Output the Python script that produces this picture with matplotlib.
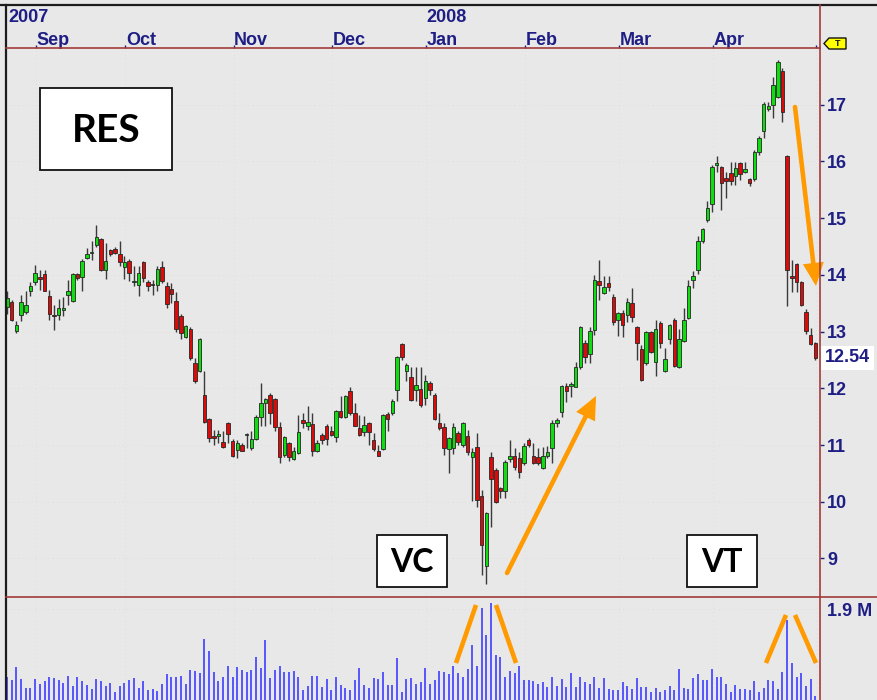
import numpy as np
import matplotlib
matplotlib.use("Agg")
import matplotlib.pyplot as plt
import matplotlib.transforms as mtransforms
from matplotlib.patches import Rectangle, Polygon, FancyArrowPatch
from matplotlib.lines import Line2D

# ---------------------------------------------------------------- data
ticker = "RES"
months = ["Sep", "Oct", "Nov", "Dec", "Jan", "Feb", "Mar", "Apr"]
month_start = [6, 25, 48, 69, 89, 110, 130, 150]      # bar index of first session
years = ["2007", "2008"]
year_start = [0, 89]
price_ticks = [9, 10, 11, 12, 13, 14, 15, 16, 17]
last_price = 12.54
volume_tick = 1.9            # millions
volume_tick_label = "1.9 M"

open_ = [
    13.44, 13.53, 13.01, 13.30, 13.34, 13.72, 13.88, 13.97, 14.02, 13.62,
    13.30, 13.30, 13.38, 13.65, 13.54, 14.01, 13.97, 14.30, 14.38, 14.53,
    14.63, 14.09, 14.43, 14.46, 14.37, 14.14, 14.25, 13.87, 13.82, 14.22,
    13.88, 13.84, 13.83, 14.13, 13.80, 13.75, 13.54, 13.27, 12.91, 13.05,
    12.44, 12.30, 11.89, 11.46, 11.15, 11.15, 11.06, 11.39, 11.07, 10.92,
    11.00, 11.17, 10.95, 11.11, 11.50, 11.74, 11.88, 11.81, 11.32, 10.83,
    11.04, 10.76, 10.86, 11.44, 11.34, 11.37, 10.90, 11.18, 11.34, 11.25,
    11.14, 11.60, 11.50, 11.96, 11.57, 11.30, 11.23, 11.39, 11.09, 10.90,
    10.93, 11.55, 11.57, 11.97, 12.78, 12.31, 12.20, 11.97, 11.99, 11.82,
    12.10, 11.89, 11.39, 11.32, 10.93, 10.95, 11.22, 11.00, 11.16, 10.79,
    10.97, 10.10, 8.87, 10.79, 10.56, 10.25, 10.19, 10.76, 10.81, 10.77,
    10.69, 11.09, 10.81, 10.79, 10.60, 10.81, 10.95, 11.39, 11.59, 12.04,
    12.04, 12.03, 12.38, 12.80, 12.61, 13.03, 13.90, 13.68, 13.86, 13.61,
    13.21, 13.33, 13.30, 13.51, 13.08, 12.70, 12.45, 13.00, 12.47, 13.16,
    12.31, 12.87, 13.21, 12.38, 12.84, 13.24, 13.91, 14.09, 14.60, 14.97,
    15.25, 15.94, 15.91, 15.71, 15.80, 15.75, 15.98, 15.82, 15.69, 15.69,
    16.17, 16.54, 16.93, 17.00, 17.14, 17.60, 16.10, 13.98, 14.20, 13.88,
    13.35, 12.94, 12.80,
]
high = [
    13.71, 13.56, 13.18, 13.65, 13.71, 13.88, 14.18, 14.09, 14.09, 13.74,
    13.47, 13.57, 13.61, 13.91, 14.04, 14.04, 14.28, 14.47, 14.59, 14.88,
    14.65, 14.56, 14.46, 14.49, 14.59, 14.33, 14.28, 14.15, 14.15, 14.24,
    13.91, 13.91, 14.15, 14.25, 13.88, 13.86, 13.69, 13.31, 13.12, 13.08,
    12.53, 12.89, 12.30, 11.47, 11.27, 11.27, 11.24, 11.40, 11.10, 11.08,
    11.03, 11.22, 11.24, 11.53, 12.10, 11.83, 11.92, 11.83, 11.41, 11.16,
    11.06, 10.97, 11.53, 11.57, 11.69, 11.56, 11.08, 11.21, 11.37, 11.33,
    11.62, 11.86, 11.89, 12.02, 11.74, 11.53, 11.51, 11.40, 11.21, 11.00,
    11.55, 11.59, 11.81, 12.57, 12.79, 12.44, 12.37, 12.38, 12.38, 12.24,
    12.13, 11.92, 11.57, 11.39, 11.14, 11.39, 11.25, 11.41, 11.27, 10.95,
    11.22, 10.21, 9.82, 10.88, 10.60, 10.26, 10.74, 11.09, 10.95, 10.88,
    11.04, 11.13, 11.04, 10.95, 10.97, 10.99, 11.44, 11.48, 12.06, 12.10,
    12.11, 12.47, 13.10, 12.86, 13.08, 14.00, 14.27, 13.98, 13.98, 13.66,
    13.35, 13.38, 13.60, 13.77, 13.09, 12.77, 13.01, 13.01, 13.21, 13.19,
    12.71, 13.14, 13.24, 13.05, 13.42, 13.91, 14.07, 14.69, 14.83, 15.31,
    15.94, 16.10, 15.92, 15.82, 15.99, 15.99, 15.99, 15.99, 15.71, 16.21,
    16.45, 17.05, 17.05, 17.48, 17.78, 17.65, 16.12, 14.27, 14.21, 13.89,
    13.40, 13.07, 12.82,
]
low = [
    13.31, 13.18, 12.98, 13.18, 13.31, 13.62, 13.83, 13.74, 13.71, 13.21,
    13.03, 13.21, 13.27, 13.47, 13.53, 13.91, 13.72, 14.28, 14.27, 14.50,
    14.06, 13.93, 14.33, 14.36, 14.15, 13.93, 13.90, 13.80, 13.63, 13.88,
    13.71, 13.65, 13.72, 13.86, 13.41, 13.50, 13.00, 12.87, 12.89, 12.50,
    12.10, 12.28, 11.39, 11.06, 11.00, 11.03, 10.95, 11.03, 10.79, 10.77,
    10.89, 10.95, 10.92, 11.08, 11.33, 11.33, 11.37, 11.24, 10.68, 10.78,
    10.71, 10.73, 10.84, 11.30, 11.27, 10.80, 10.87, 11.02, 11.00, 11.15,
    11.06, 11.47, 11.47, 11.53, 11.33, 11.15, 11.16, 11.00, 10.89, 10.80,
    10.92, 11.24, 11.53, 11.77, 12.50, 12.12, 11.78, 11.77, 11.67, 11.71,
    11.89, 11.44, 11.27, 10.83, 10.51, 10.84, 11.00, 10.97, 10.83, 10.02,
    9.91, 8.71, 8.55, 9.56, 9.98, 10.07, 10.07, 10.70, 10.56, 10.42,
    10.65, 10.97, 10.67, 10.65, 10.58, 10.77, 10.69, 11.32, 11.50, 11.75,
    11.85, 12.02, 12.34, 12.45, 12.45, 12.94, 13.56, 13.67, 13.72, 13.11,
    12.93, 12.91, 13.17, 13.17, 12.50, 12.13, 12.41, 12.63, 12.22, 12.71,
    12.29, 12.78, 12.38, 12.36, 12.82, 13.22, 13.77, 14.02, 14.57, 14.94,
    15.10, 15.82, 15.15, 15.36, 15.59, 15.59, 15.68, 15.80, 15.57, 15.66,
    16.12, 16.42, 16.89, 16.77, 17.12, 16.70, 13.45, 13.70, 13.70, 13.45,
    12.96, 12.77, 12.50,
]
close = [
    13.59, 13.21, 13.12, 13.53, 13.47, 13.80, 14.03, 13.93, 13.72, 13.31,
    13.27, 13.41, 13.41, 13.71, 14.01, 13.94, 14.24, 14.37, 14.40, 14.67,
    14.09, 14.25, 14.37, 14.39, 14.22, 14.22, 14.03, 13.88, 14.04, 13.94,
    13.80, 13.82, 14.10, 13.90, 13.49, 13.67, 13.04, 12.97, 13.09, 12.54,
    12.13, 12.87, 11.41, 11.13, 11.13, 11.20, 10.97, 11.20, 10.81, 11.04,
    10.90, 11.19, 11.11, 11.50, 11.74, 11.81, 11.57, 11.32, 10.79, 11.14,
    10.79, 10.90, 11.23, 11.39, 11.41, 10.90, 11.04, 11.08, 11.11, 11.18,
    11.60, 11.50, 11.87, 11.57, 11.34, 11.18, 11.36, 11.23, 10.93, 10.81,
    11.53, 11.46, 11.78, 12.56, 12.55, 12.41, 11.80, 12.06, 11.71, 12.13,
    11.97, 11.46, 11.30, 10.95, 11.13, 11.32, 11.06, 11.39, 10.88, 10.88,
    10.03, 9.24, 9.80, 10.40, 10.00, 10.19, 10.70, 10.81, 10.62, 10.53,
    10.99, 11.00, 10.69, 10.69, 10.81, 10.88, 11.39, 11.44, 12.04, 11.96,
    12.07, 12.38, 13.08, 12.56, 13.01, 13.91, 13.83, 13.79, 13.79, 13.17,
    13.33, 13.12, 13.53, 13.26, 12.79, 12.15, 13.00, 12.64, 13.05, 12.80,
    12.52, 13.12, 12.40, 12.87, 13.21, 13.81, 13.98, 14.60, 14.80, 15.18,
    15.91, 15.96, 15.62, 15.66, 15.66, 15.89, 15.78, 15.86, 15.62, 16.17,
    16.42, 17.02, 16.98, 17.34, 17.76, 16.88, 14.09, 13.95, 13.88, 13.47,
    13.01, 12.78, 12.54,
]
volume = [  # millions of shares
    0.49, 0.41, 0.69, 0.43, 0.26, 0.26, 0.43, 0.34, 0.39, 0.49,
    0.45, 0.41, 0.36, 0.51, 0.30, 0.47, 0.39, 0.32, 0.24, 0.43,
    0.39, 0.30, 0.35, 0.17, 0.30, 0.36, 0.42, 0.45, 0.26, 0.39,
    0.20, 0.22, 0.19, 0.34, 0.54, 0.49, 0.47, 0.51, 0.34, 0.62,
    0.61, 0.56, 1.28, 1.03, 0.58, 0.39, 0.47, 0.72, 0.49, 0.68,
    0.62, 0.58, 0.62, 0.90, 0.66, 1.26, 0.45, 0.62, 0.70, 0.58,
    0.58, 0.61, 0.49, 0.20, 0.30, 0.51, 0.51, 0.28, 0.43, 0.20,
    0.49, 0.32, 0.26, 0.20, 0.41, 0.66, 0.32, 0.26, 0.45, 0.43,
    0.58, 0.32, 0.32, 0.88, 0.17, 0.43, 0.45, 0.34, 0.37, 0.66,
    0.34, 0.41, 0.61, 0.58, 0.54, 0.72, 0.56, 0.48, 0.65, 1.14,
    0.72, 1.92, 1.35, 2.03, 0.95, 0.90, 0.48, 0.61, 0.56, 0.70,
    0.41, 0.41, 0.39, 0.34, 0.37, 0.27, 0.49, 0.30, 0.43, 0.27,
    0.56, 0.28, 0.47, 0.37, 0.34, 0.47, 0.26, 0.45, 0.24, 0.21,
    0.21, 0.37, 0.30, 0.24, 0.45, 0.28, 0.28, 0.16, 0.26, 0.16,
    0.21, 0.30, 0.21, 0.65, 0.26, 0.24, 0.45, 0.54, 0.41, 0.41,
    0.65, 0.47, 0.47, 0.34, 0.16, 0.32, 0.24, 0.24, 0.21, 0.39,
    0.16, 0.26, 0.41, 0.39, 0.24, 0.58, 1.67, 0.77, 0.49, 0.56,
    0.30, 0.43, 0.09,
]

# ---------------------------------------------------------------- style
BG = "#e8e8e8"
NAVY = "#1e1e84"
FRAME_RED = "#a33a3a"
UP = "#10dd10"
DOWN = "#dd0a0a"
WICK = "#3a3a3a"
VOL = "#4b4bff"
ORANGE = "#ff9a00"
GRID = "#dadada"

plt.rcParams["font.family"] = ["Liberation Sans", "DejaVu Sans"]
plt.rcParams["font.weight"] = "bold"

W, H = 878, 700
LEFT, RIGHT = 6, 820          # plotting area, pixels
P_TOP, P_BOT = 48, 597        # price panel
V_BOT = 700                   # volume panel bottom

fig = plt.figure(figsize=(W / 100, H / 100), dpi=100, facecolor=BG)


def frac_box(x0, y0, x1, y1):
    return [x0 / W, 1 - y1 / H, (x1 - x0) / W, (y1 - y0) / H]


ax = fig.add_axes(frac_box(LEFT, P_TOP, RIGHT, P_BOT))
axv = fig.add_axes(frac_box(LEFT, P_BOT, RIGHT, V_BOT), sharex=ax)
for a in (ax, axv):
    a.set_facecolor(BG)
    for s in a.spines.values():
        s.set_visible(False)

o = np.array(open_)
h = np.array(high)
l = np.array(low)
c = np.array(close)
v = np.array(volume)
x = np.arange(len(c))
up = c >= o

# ---------------------------------------------------------------- candles
ax.vlines(x, l, h, color=WICK, lw=1.0, zorder=2)
body_lo = np.minimum(o, c)
body_h = np.maximum(np.abs(c - o), 0.025)
ax.bar(x, body_h, bottom=body_lo, width=0.74,
       color=np.where(up, UP, DOWN), edgecolor="#262626", linewidth=0.6,
       zorder=3)

ax.set_xlim(-0.21, 172.98)
ax.set_ylim(8.32, 18.0)

ax.yaxis.tick_right()
ax.set_yticks(price_ticks)
ax.set_yticklabels([str(t) for t in price_ticks])
ax.tick_params(axis="y", direction="out", length=3, width=1, color=NAVY,
               pad=2, labelsize=13, labelcolor=NAVY)
ax.xaxis.tick_top()
ax.set_xticks([m + 0.2 for m in month_start] + [172.2])
ax.set_xticklabels([])
ax.tick_params(axis="x", direction="out", length=2, width=1, color=NAVY)
ax.grid(True, color=GRID, lw=0.6, ls=(0, (1, 4)))

# month / year captions along the top
xt = ax.get_xaxis_transform()
for m, name in zip(month_start, months):
    ax.text(m + 0.3, 1.0055, name, transform=xt, ha="left", va="baseline",
            fontsize=13, color=NAVY, clip_on=False)
for ys, name in zip(year_start, years):
    ax.text(ys + 0.3, 1.048, name, transform=xt, ha="left", va="baseline",
            fontsize=13, color=NAVY, clip_on=False)

# last close tag on the price scale
lt = mtransforms.blended_transform_factory(ax.transAxes, ax.transData)
ax.text(1 + 5 / (RIGHT - LEFT), last_price, f"{last_price:.2f}", transform=lt,
        ha="left", va="center", fontsize=13, color=NAVY, clip_on=False,
        bbox=dict(boxstyle="square,pad=0.2", fc="white", ec="none"))

# ---------------------------------------------------------------- volume
axv.vlines(x, 0, v, color=VOL, lw=1.3, zorder=2)
axv.set_ylim(0, volume_tick * (V_BOT - P_BOT) / 91)
axv.yaxis.tick_right()
axv.set_yticks([volume_tick])
axv.set_yticklabels([volume_tick_label])
axv.tick_params(axis="y", length=0, pad=5, labelsize=13, labelcolor=NAVY)
axv.tick_params(axis="x", length=0, labelbottom=False, labeltop=False)
axv.grid(True, color=GRID, lw=0.6, ls=(0, (1, 4)))

# ---------------------------------------------------------------- frame & notes
ov = fig.add_axes([0, 0, 1, 1], zorder=10)
ov.set_xlim(0, W)
ov.set_ylim(H, 0)
ov.axis("off")
ov.patch.set_alpha(0)

ov.add_line(Line2D([0, W], [5, 5], color="#1c1c1c", lw=1.6))
ov.add_line(Line2D([6, 6], [5, H], color="#1c1c1c", lw=1.6))
ov.add_line(Line2D([LEFT, RIGHT], [P_TOP, P_TOP], color=FRAME_RED, lw=1.2))
ov.add_line(Line2D([RIGHT, RIGHT], [5, H], color=FRAME_RED, lw=1.2))
ov.add_line(Line2D([LEFT, W], [P_BOT, P_BOT], color=FRAME_RED, lw=1.2))

# trendline flag
ov.add_patch(Polygon([[824, 43.5], [829, 38], [846, 38], [846, 49], [829, 49]],
                     closed=True, fc="#ffff00", ec="#111111", lw=1.0))
ov.text(837.5, 43.8, "T", ha="center", va="center", fontsize=6.5,
        color="#111111")

# labelled boxes
for (bx, by, bw, bh, label, fs) in [(40, 88, 132, 82, ticker, 28),
                                    (377, 535, 70, 52, "VC", 23),
                                    (687, 535, 70, 52, "VT", 23)]:
    ov.add_patch(Rectangle((bx, by), bw, bh, fc="white", ec="#111111",
                           lw=1.3))
    ov.text(bx + bw / 2, by + bh / 2 + 1, label, ha="center", va="center",
            fontsize=fs, family=["Lato", "DejaVu Sans"], weight="bold",
            color="black")

# orange arrows on the price panel
for (x0, y0, x1, y1) in [(507, 573, 596, 396), (795, 107, 816, 286)]:
    ov.add_patch(FancyArrowPatch((x0, y0), (x1, y1),
                                 arrowstyle="-|>,head_length=11,head_width=5",
                                 mutation_scale=1, color=ORANGE, lw=3.3,
                                 shrinkA=0, shrinkB=0, joinstyle="miter"))

# orange strokes marking volume spikes
for (x0, y0, x1, y1) in [(456, 663, 476, 605), (496, 605, 516, 663),
                         (766, 663, 786, 615), (795, 615, 816, 663)]:
    ov.add_line(Line2D([x0, x1], [y0, y1], color=ORANGE, lw=3.3,
                       solid_capstyle="butt"))

fig.savefig("out.png", dpi=100, facecolor=BG)
